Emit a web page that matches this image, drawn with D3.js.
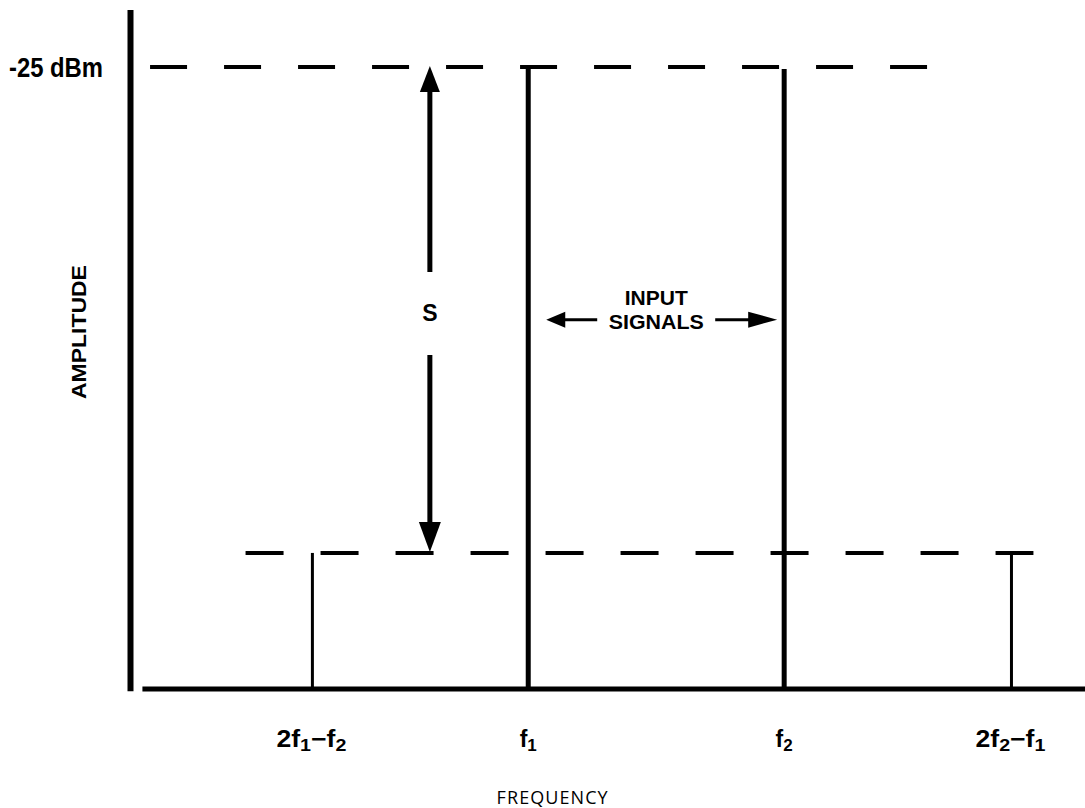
<!DOCTYPE html>
<html>
<head>
<meta charset="utf-8">
<script src="https://cdn.jsdelivr.net/npm/d3@7"></script>
<style>
  body { margin: 0; background: #fff; }
  svg { display: block; }
  .lbl { font-family: "Liberation Sans", Arial, sans-serif; font-weight: bold; fill: #000; }
</style>
</head>
<body>
<svg width="1085" height="808"></svg>
<script>
// tones on the spectrum (frequency in arbitrary units, level in dBm)
const toneNames = ["2f1-f2", "f1", "f2", "2f2-f1"];
const toneFreq  = [19.1, 41.7, 68.5, 92.3];
const toneLevel = [-80, -25, -25, -80];
// dashed reference levels and the frequency span each one covers
const refLevels = [-25, -80];
const refSpans  = [[2.1, 83.5], [12.1, 94.6]];
const refTick   = "-25 dBm";
const sFreq = 31.4;          // where the S arrow sits
const inputLevel = -53.6;    // height of the "input signals" arrows

const svg = d3.select("svg");

const x = d3.scaleLinear().domain([0, 100]).range([130, 1085]);
const y = d3.scaleLinear().domain([-95.4, -25]).range([689, 67]);

// y axis: plain thick line with one labelled tick
const yAxisScale = y.copy().domain([-95.6, -18.5]).range([y(-95.6), y(-18.5)]);
const yAxis = d3.axisLeft(yAxisScale)
    .tickValues([-25])
    .tickFormat(() => refTick)
    .tickSize(0)
    .tickSizeOuter(0)
    .tickPadding(27);
const ga = svg.append("g").attr("transform", `translate(${x(0)},0)`).call(yAxis);
ga.select(".domain").attr("stroke", "#000").attr("stroke-width", 6);
ga.selectAll("text").attr("class", "lbl").attr("font-size", 27).attr("dy", "0.36em")
    .attr("textLength", 94).attr("lengthAdjust", "spacingAndGlyphs");

// baseline
svg.append("line")
    .attr("x1", x(1.3)).attr("x2", x(100))
    .attr("y1", y(-95.4)).attr("y2", y(-95.4))
    .attr("stroke", "#000").attr("stroke-width", 5);

// dashed reference levels
svg.selectAll("line.ref").data(refLevels).enter().append("line")
    .attr("class", "ref")
    .attr("x1", (d, i) => x(refSpans[i][0]))
    .attr("x2", (d, i) => x(refSpans[i][1]))
    .attr("y1", d => y(d)).attr("y2", d => y(d))
    .attr("stroke", "#000").attr("stroke-width", 4)
    .attr("stroke-dasharray", (d, i) => i === 0 ? "37,37" : "38,37");

// tone lines
const tones = toneNames.map((n, i) => ({name: n, f: toneFreq[i], lvl: toneLevel[i]}));
svg.selectAll("line.tone").data(tones).enter().append("line")
    .attr("class", "tone")
    .attr("x1", d => x(d.f)).attr("x2", d => x(d.f))
    .attr("y1", d => y(d.lvl) + (d.lvl > -50 ? 2 : 0))
    .attr("y2", y(-95.4))
    .attr("stroke", "#000")
    .attr("stroke-width", d => d.lvl > -50 ? 5 : 3);

// tone labels with subscripts
const labels = svg.selectAll("text.tl").data(tones).enter().append("text")
    .attr("class", "lbl tl")
    .attr("x", d => x(d.f) + (d.name.length > 2 ? -1 : 0))
    .attr("y", 747)
    .attr("text-anchor", "middle")
    .attr("font-size", 23);
labels.filter(d => d.name.length > 2)
    .attr("textLength", 70).attr("lengthAdjust", "spacingAndGlyphs");
labels.each(function(d) {
  const t = d3.select(this);
  const parts = [];
  for (let i = 0; i < d.name.length; i++) {
    const c = d.name[i];
    const sub = /\d/.test(c) && d.name[i - 1] === "f";
    parts.push({t: c === "-" ? "\u2212" : c, sub});
  }
  let prevSub = false;
  parts.forEach(p => {
    const ts = t.append("tspan").text(p.t);
    if (p.sub) ts.attr("font-size", 17);
    if (p.sub !== prevSub) ts.attr("dy", p.sub ? 4 : -4);
    prevSub = p.sub;
  });
});

// S arrow between the two reference levels
const arrowHead = (cx, tipY, dir, w, h) =>
  `M${cx},${tipY} L${cx - w / 2},${tipY + dir * h} L${cx + w / 2},${tipY + dir * h} Z`;
const sx = x(sFreq);
const yTop = y(refLevels[0]), yBot = y(refLevels[1]);
const yMid = (yTop + yBot) / 2;
svg.append("line").attr("x1", sx).attr("x2", sx).attr("y1", yTop + 20).attr("y2", yMid - 38)
    .attr("stroke", "#000").attr("stroke-width", 5);
svg.append("line").attr("x1", sx).attr("x2", sx).attr("y1", yMid + 45).attr("y2", yBot - 20)
    .attr("stroke", "#000").attr("stroke-width", 5);
svg.append("path").attr("d", arrowHead(sx, yTop - 1, 1, 20, 26));
svg.append("path").attr("d", arrowHead(sx, yBot - 1, -1, 22, 30));
svg.append("text").attr("class", "lbl").attr("x", sx).attr("y", yMid + 11)
    .attr("text-anchor", "middle").attr("font-size", 23).text("S");

// input signals arrows
const iy = y(inputLevel);
const xf1 = x(toneFreq[1]), xf2 = x(toneFreq[2]);
const ix = (xf1 + xf2) / 2;
svg.append("line").attr("x1", xf1 + 30).attr("x2", ix - 59).attr("y1", iy).attr("y2", iy)
    .attr("stroke", "#000").attr("stroke-width", 3);
svg.append("line").attr("x1", ix + 59).attr("x2", xf2 - 28).attr("y1", iy).attr("y2", iy)
    .attr("stroke", "#000").attr("stroke-width", 3);
svg.append("path").attr("d", `M${xf1 + 18},${iy} L${xf1 + 37},${iy - 8} L${xf1 + 37},${iy + 8} Z`);
svg.append("path").attr("d", `M${xf2 - 7},${iy} L${xf2 - 36},${iy - 8} L${xf2 - 36},${iy + 8} Z`);
svg.append("text").attr("class", "lbl").attr("x", ix).attr("y", iy - 15)
    .attr("text-anchor", "middle").attr("font-size", 21).text("INPUT");
svg.append("text").attr("class", "lbl").attr("x", ix).attr("y", iy + 9)
    .attr("text-anchor", "middle").attr("font-size", 21)
    .attr("textLength", 95).attr("lengthAdjust", "spacingAndGlyphs").text("SIGNALS");

// axis titles
svg.append("text").attr("class", "lbl")
    .attr("transform", `translate(${x(0) - 44},${y(-55)}) rotate(-90)`)
    .attr("text-anchor", "middle").attr("font-size", 21)
    .attr("textLength", 134).attr("lengthAdjust", "spacingAndGlyphs")
    .text("AMPLITUDE");
svg.append("text")
    .attr("x", x(44.2)).attr("y", 804)
    .attr("text-anchor", "middle")
    .attr("font-family", "'Open Sans', 'Liberation Sans', sans-serif")
    .attr("font-size", 18)
    .attr("textLength", 111).attr("lengthAdjust", "spacing")
    .text("FREQUENCY");
</script>
</body>
</html>
